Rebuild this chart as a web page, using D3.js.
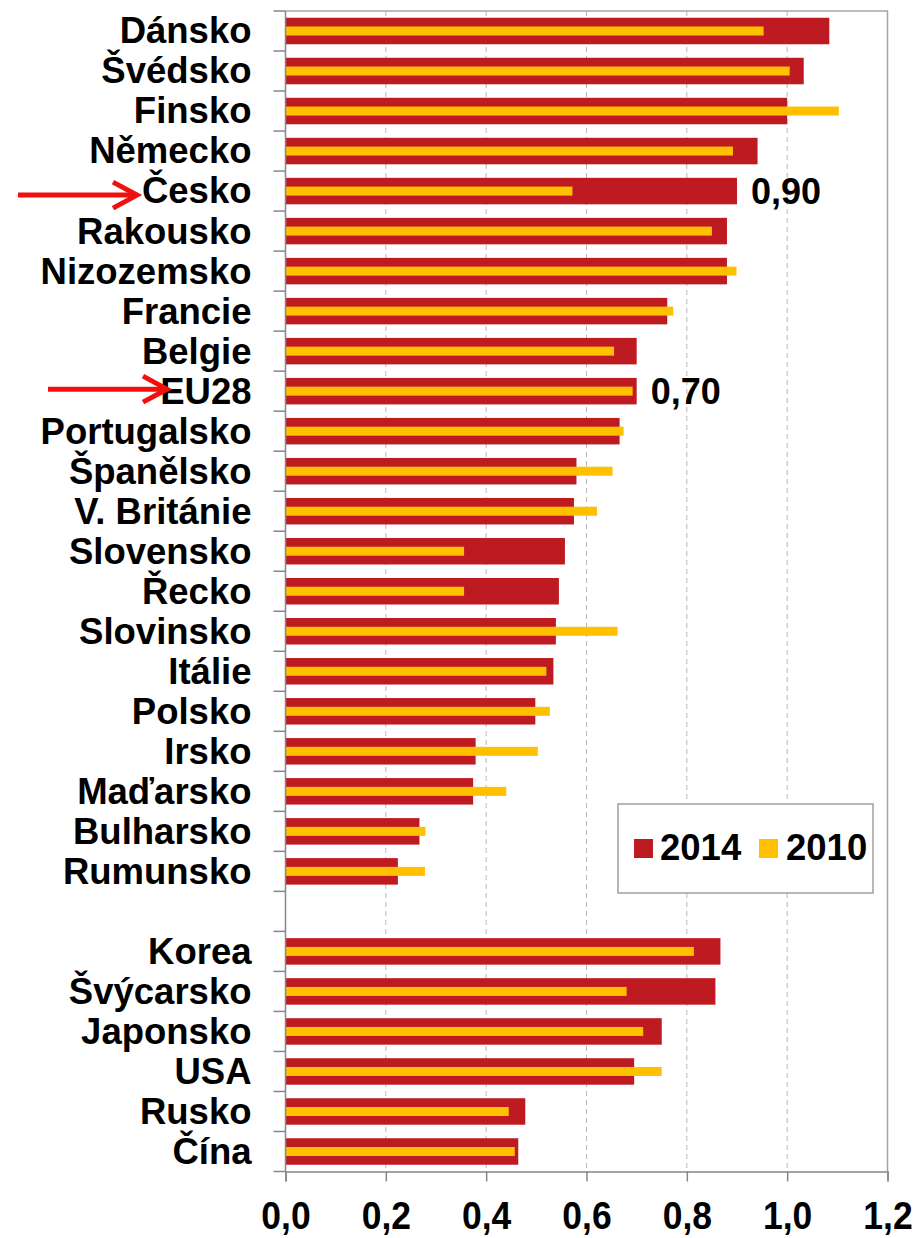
<!DOCTYPE html>
<html>
<head>
<meta charset="utf-8">
<script src="https://cdn.jsdelivr.net/npm/d3@7"></script>
<style>
  html, body { margin: 0; padding: 0; background: #fff; }
  svg { display: block; }
  text { font-family: "Liberation Sans", Arial, sans-serif; font-weight: bold; fill: #000; }
</style>
</head>
<body>
<svg id="chart" width="917" height="1238"></svg>
<script>
// ---- data ----
const categories = ["Dánsko","Švédsko","Finsko","Německo","Česko","Rakousko","Nizozemsko","Francie","Belgie","EU28",
  "Portugalsko","Španělsko","V. Británie","Slovensko","Řecko","Slovinsko","Itálie","Polsko","Irsko","Maďarsko",
  "Bulharsko","Rumunsko","","Korea","Švýcarsko","Japonsko","USA","Rusko","Čína"];
const values2014 = [1.084,1.033,1.000,0.941,0.900,0.880,0.880,0.761,0.700,0.700,
  0.666,0.580,0.575,0.557,0.545,0.539,0.534,0.498,0.379,0.374,
  0.267,0.224,null,0.867,0.857,0.750,0.695,0.478,0.464];
const values2010 = [0.953,1.005,1.103,0.892,0.572,0.850,0.899,0.773,0.655,0.692,
  0.674,0.652,0.621,0.356,0.356,0.662,0.520,0.527,0.503,0.440,
  0.279,0.278,null,0.814,0.680,0.713,0.750,0.445,0.457];
const seriesNames = ["2014","2010"];
const xTicks = [0,0.2,0.4,0.6,0.8,1.0,1.2];
const highlighted = ["Česko","EU28"];
const annotated = ["Česko","EU28"];

// ---- layout ----
const colors = {"2014":"#BE1A22","2010":"#FFC000"};
const svg = d3.select("#chart");
const mLeft = 285.5, mRight = 887.5, mTop = 11, mBottom = 1171.5;

const x = d3.scaleLinear().domain([0,1.2]).range([mLeft,mRight]);
const y = d3.scaleBand().domain(d3.range(categories.length)).range([mTop,mBottom]).paddingInner(0).paddingOuter(0);
const step = y.step();
const locale = d3.formatLocale({decimal:",", thousands:" ", grouping:[3], currency:["","Kč"]});
const f1 = locale.format(".1f"), f2 = locale.format(".2f");

// gridlines
svg.append("g").selectAll("line").data(xTicks.filter(t => t>0 && t<1.2)).join("line")
  .attr("x1", d=>x(d)).attr("x2", d=>x(d)).attr("y1", mTop).attr("y2", mBottom)
  .attr("stroke","#b8b8b8").attr("stroke-width",1).attr("stroke-dasharray","5,4");

// frame top and right
svg.append("path").attr("d", `M${mLeft},${mTop}H${mRight}V${mBottom}`)
  .attr("fill","none").attr("stroke","#a6a6a6").attr("stroke-width",1.5);

// bars 2014
const h1 = 26.5, h2 = 9;
svg.append("g").selectAll("rect").data(values2014.map((v,i)=>({v,i})).filter(d=>d.v!=null)).join("rect")
  .attr("x", x(0)).attr("y", d=>y(d.i)+step/2-h1/2)
  .attr("width", d=>x(d.v)-x(0)).attr("height", h1)
  .attr("fill", colors["2014"]);
// bars 2010
svg.append("g").selectAll("rect").data(values2010.map((v,i)=>({v,i})).filter(d=>d.v!=null)).join("rect")
  .attr("x", x(0)).attr("y", d=>y(d.i)+step/2-h2/2)
  .attr("width", d=>x(d.v)-x(0)).attr("height", h2)
  .attr("fill", colors["2010"]);

// x axis
const xAxis = d3.axisBottom(x).tickValues(xTicks).tickSize(10).tickPadding(17).tickFormat(f1);
const gx = svg.append("g").attr("transform",`translate(0,${mBottom})`).call(xAxis);
gx.select(".domain").attr("stroke","#868686").attr("stroke-width",1.5);
gx.selectAll(".tick line").attr("stroke","#868686").attr("stroke-width",1.5);
gx.selectAll(".tick text").attr("font-size",35.5).attr("font-family","Liberation Sans, Arial, sans-serif")
  .attr("font-weight","bold").attr("fill","#000")
  .attr("y",52.3).attr("dy",0).attr("transform","scale(1,1.1)");

// y axis: labels at band centers, ticks at band boundaries
const yAxis = d3.axisLeft(y).tickSize(0).tickPadding(34).tickFormat(i=>categories[i]);
const gy = svg.append("g").attr("transform",`translate(${mLeft},0)`).call(yAxis);
gy.select(".domain").remove();
gy.selectAll(".tick text").attr("font-size",36.5).attr("font-family","Liberation Sans, Arial, sans-serif").attr("font-weight","bold").attr("fill","#000").attr("dy","0.34em");
const boundaries = d3.range(categories.length+1).map(i => i<categories.length ? y(i) : mBottom);
svg.append("g").selectAll("line").data(boundaries).join("line")
  .attr("x1", mLeft-12).attr("x2", mLeft).attr("y1", d=>d).attr("y2", d=>d)
  .attr("stroke","#868686").attr("stroke-width",1.5);
svg.append("line").attr("x1",mLeft).attr("x2",mLeft).attr("y1",mTop).attr("y2",mBottom)
  .attr("stroke","#868686").attr("stroke-width",1.5);

// value annotations
annotated.forEach(c=>{
  const i = categories.indexOf(c);
  svg.append("text").attr("x", x(values2014[i])+14).attr("y", y(i)+step/2).attr("dy","0.35em")
    .attr("font-size",36).text(f2(values2014[i]));
});

// arrows
const arrowSpec = {"Česko":{x0:18, x1:137, dy:4}, "EU28":{x0:48, x1:167, dy:-2}};
highlighted.forEach(c=>{
  const i = categories.indexOf(c);
  const a = arrowSpec[c];
  const cy = y(i)+step/2+a.dy;
  const g = svg.append("g").attr("stroke","#F01010").attr("stroke-width",5).attr("fill","none").attr("stroke-linecap","butt");
  g.append("line").attr("x1",a.x0).attr("x2",a.x1-2).attr("y1",cy).attr("y2",cy);
  g.append("path").attr("d",`M${a.x1-24},${cy-13}L${a.x1},${cy}L${a.x1-24},${cy+13}`).attr("stroke-linejoin","miter");
});

// legend
const lg = svg.append("g");
lg.append("rect").attr("x",618).attr("y",804).attr("width",255).attr("height",89)
  .attr("fill","#fff").attr("stroke","#a0a0a0").attr("stroke-width",1.5);
const legendItems = [{name:seriesNames[0], sx:634, tx:660},{name:seriesNames[1], sx:759, tx:786}];
legendItems.forEach(it=>{
  lg.append("rect").attr("x",it.sx).attr("y",839).attr("width",19).attr("height",19).attr("fill",colors[it.name]);
  lg.append("text").attr("x",it.tx).attr("y",860).attr("font-size",36.5).text(it.name);
});
</script>
</body>
</html>
